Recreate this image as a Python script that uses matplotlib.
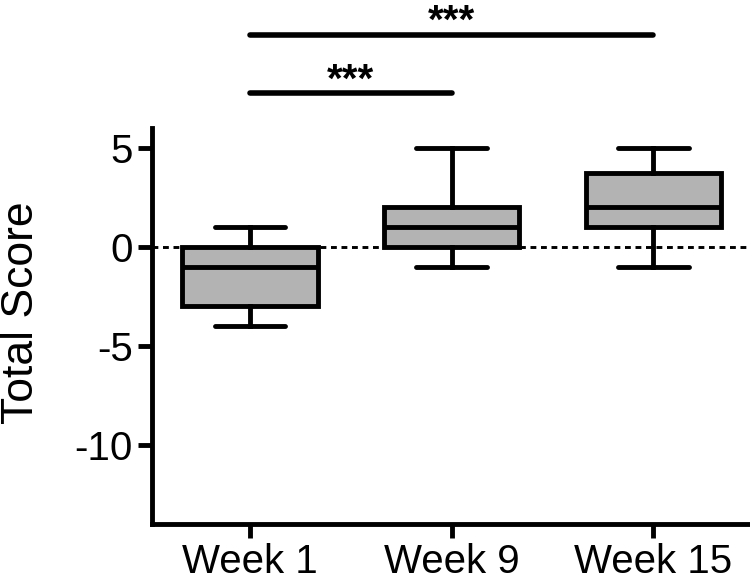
import matplotlib
matplotlib.use("Agg")
import matplotlib.pyplot as plt

plt.rcParams['font.family'] = ['Liberation Sans', 'DejaVu Sans']

categories = ["Week 1", "Week 9", "Week 15"]
whislo = [-4, -1, -1]
q1 = [-3, 0, 1]
med = [-1, 1, 2]
q3 = [0, 2, 3.75]
whishi = [1, 5, 5]
comparisons = [(1, 2, "***"), (1, 3, "***")]
yticks = [5, 0, -5, -10]

fig = plt.figure(figsize=(7.5, 5.82), dpi=100)
ax = fig.add_axes([152/750, 1-524/582, 1-152/750, (524-128)/582])

stats = []
for i, c in enumerate(categories):
    stats.append(dict(label=c, whislo=whislo[i], q1=q1[i], med=med[i],
                      q3=q3[i], whishi=whishi[i], fliers=[]))

lw = 3.5
ax.bxp(stats, positions=[1, 2, 3], widths=0.67, patch_artist=True,
       showfliers=False,
       boxprops=dict(facecolor='#b3b3b3', edgecolor='black', linewidth=lw),
       medianprops=dict(color='black', linewidth=lw),
       whiskerprops=dict(color='black', linewidth=lw),
       capprops=dict(color='black', linewidth=lw, solid_capstyle='round'),
       capwidths=0.35, zorder=3)

ax.axhline(0, color='black', linestyle=(0, (2.0, 1.6)), linewidth=2.1, zorder=2)

ax.set_xlim(0.514, 3.48)
ax.set_ylim(-14, 6)
ax.set_yticks(yticks)
ax.set_yticklabels([str(t) if t >= 0 else "-" + str(-t) for t in yticks])
ax.set_xticks([1, 2, 3])
ax.set_xticklabels(categories)
for s in ['top', 'right']:
    ax.spines[s].set_visible(False)
for s in ['left', 'bottom']:
    ax.spines[s].set_linewidth(3.5)
ax.tick_params(axis='both', width=3.5, length=10, labelsize=29, pad=4)
ax.set_ylabel("Total Score", fontsize=32)
ax.yaxis.set_label_coords((42 - 152) / 598, (524 - 313) / 396)

levels = [7.75, 10.7]
for (a, b, txt), lev in zip(comparisons, levels):
    ax.plot([a, b], [lev, lev], color='black', linewidth=4, solid_capstyle='round',
            clip_on=False)
    ax.text((a + b) / 2, lev + 0.1, txt, ha='center', va='baseline', fontsize=29,
            fontweight='bold', clip_on=False)

fig.savefig("out.png", dpi=100)
